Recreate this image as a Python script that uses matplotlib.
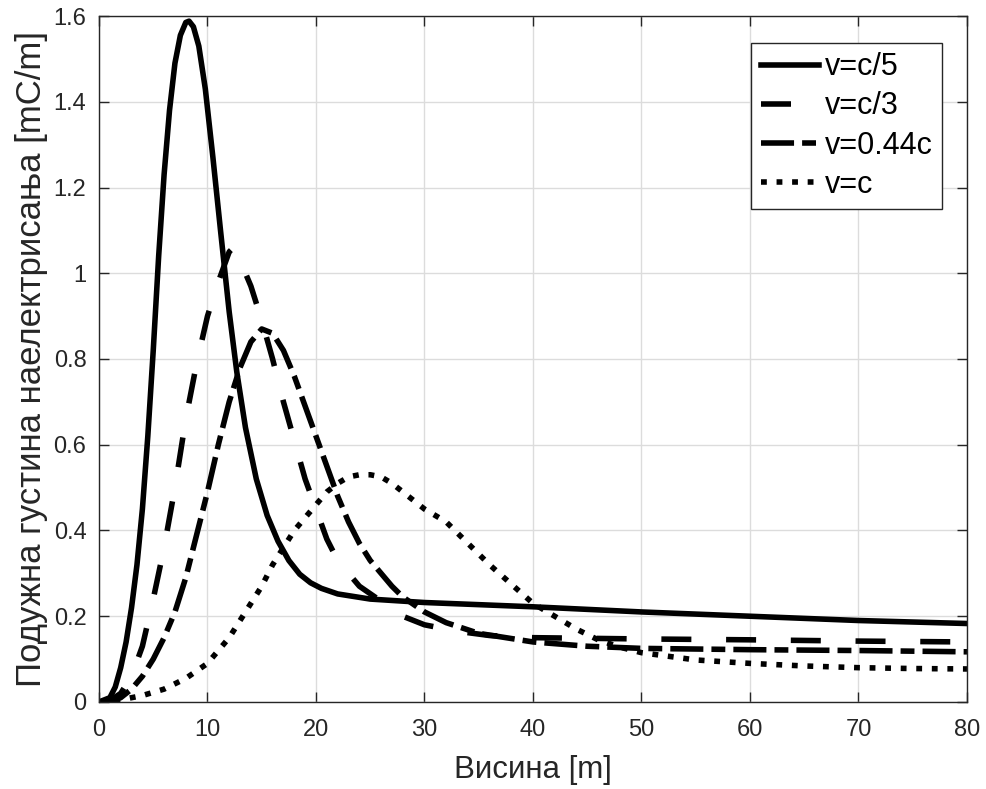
import matplotlib.pyplot as plt
import numpy as np

plt.rcParams['font.family'] = ['Liberation Sans', 'DejaVu Sans']
plt.rcParams['lines.scale_dashes'] = False

# v = c/5 (puna linija)
x_c5 = [0, 1, 1.5, 2, 2.5, 3, 3.5, 4, 4.5, 5, 5.5, 6, 6.5, 7, 7.5, 8, 8.3, 8.7,
        9.2, 9.8, 10.5, 11.2, 12, 12.7, 13.5, 14.5, 15.5, 16.5, 17.5, 18.5,
        19.5, 20.5, 22, 25, 30, 40, 50, 60, 70, 80]
y_c5 = [0, 0.01, 0.035, 0.08, 0.14, 0.22, 0.32, 0.45, 0.62, 0.82, 1.04, 1.23,
        1.38, 1.49, 1.555, 1.585, 1.588, 1.575, 1.53, 1.43, 1.27, 1.10, 0.91,
        0.77, 0.64, 0.52, 0.435, 0.375, 0.33, 0.298, 0.278, 0.265, 0.252, 0.24,
        0.232, 0.222, 0.21, 0.20, 0.19, 0.183]

# v = c/3
x_c3 = [0, 1, 2, 3, 4, 5, 6, 7, 8, 9, 10, 11, 12, 12.4, 13, 14, 15, 16, 17, 18,
        19, 20, 21, 22, 23, 24, 26, 28, 30, 33, 36, 40, 50, 60, 70, 80]
y_c3 = [0, 0.003, 0.02, 0.06, 0.13, 0.24, 0.36, 0.50, 0.66, 0.79, 0.90, 0.98,
        1.05, 1.06, 1.03, 0.97, 0.89, 0.80, 0.70, 0.61, 0.52, 0.45, 0.38, 0.33,
        0.30, 0.27, 0.235, 0.20, 0.18, 0.165, 0.155, 0.15, 0.147, 0.145, 0.142,
        0.14]

# v = 0.44c
x_c044 = [0, 1, 2, 3, 4, 5, 6, 7, 8, 9, 10, 11, 12, 13, 14, 15, 16, 17, 18, 19,
          20, 21, 22, 23, 24, 25, 26, 27, 28, 30, 32, 35, 40, 45, 50, 60, 70, 80]
y_c044 = [0, 0.002, 0.01, 0.03, 0.06, 0.10, 0.15, 0.21, 0.29, 0.39, 0.49, 0.60,
          0.70, 0.78, 0.84, 0.87, 0.86, 0.82, 0.76, 0.69, 0.62, 0.55, 0.48, 0.42,
          0.37, 0.33, 0.30, 0.27, 0.245, 0.21, 0.185, 0.16, 0.14, 0.13, 0.125,
          0.122, 0.12, 0.117]

# v = c (tackasta)
x_c = [0, 2, 4, 6, 8, 10, 12, 13, 14, 15, 16, 17, 18, 19, 20, 21, 22, 23, 24,
       25, 26, 27, 28, 29, 30, 32, 34, 36, 38, 40, 42, 44, 46, 48, 50, 55, 60,
       65, 70, 75, 80]
y_c = [0, 0.005, 0.015, 0.03, 0.055, 0.09, 0.15, 0.19, 0.23, 0.27, 0.32, 0.36,
       0.40, 0.43, 0.46, 0.49, 0.51, 0.525, 0.53, 0.53, 0.525, 0.51, 0.49, 0.47,
       0.45, 0.42, 0.37, 0.32, 0.275, 0.23, 0.20, 0.17, 0.145, 0.128, 0.115,
       0.098, 0.09, 0.084, 0.08, 0.078, 0.077]

labels = ['v=c/5', 'v=c/3', 'v=0.44c', 'v=c']

fig = plt.figure(figsize=(9.86, 7.89), dpi=100)
ax = fig.add_axes([0.1004, 0.1103, 0.8803, 0.8694])

lw = 4.0
ax.plot(x_c5, y_c5, color='k', lw=lw, label=labels[0])
l2, = ax.plot(x_c3, y_c3, color='k', lw=lw, label=labels[1])
l2.set_dashes((21.6, 25))
l3, = ax.plot(x_c044, y_c044, color='k', lw=lw, label=labels[2])
l3.set_dashes((23.8, 5.8, 10, 5.8))
l4, = ax.plot(x_c, y_c, color='k', lw=lw, label=labels[3])
l4.set_dashes((4.2, 7))

ax.set_xlim(0, 80)
ax.set_ylim(0, 1.6)
ax.set_xticks(np.arange(0, 81, 10))
ax.set_yticks([0, 0.2, 0.4, 0.6, 0.8, 1, 1.2, 1.4, 1.6])
ax.set_yticklabels(['0', '0.2', '0.4', '0.6', '0.8', '1', '1.2', '1.4', '1.6'])
ax.grid(True, color='#dcdcdc', lw=1)
ax.set_axisbelow(True)
ax.tick_params(direction='in', length=7, width=1, top=True, right=True,
               labelsize=17, colors='#262626')
ax.tick_params(axis='x', pad=12)
ax.tick_params(axis='y', pad=9)
for s in ax.spines.values():
    s.set_color('#262626')
    s.set_linewidth(1)

ax.set_xlabel('Висина [m]', fontsize=22.5, color='#262626', labelpad=10)
ax.set_ylabel('Подужна густина наелектрисања [mC/m]', fontsize=25,
              color='#262626', labelpad=4)

leg = ax.legend(loc='upper right', bbox_to_anchor=(0.971, 0.9606), fontsize=22,
                handlelength=1.9, handletextpad=0.2, labelspacing=0.3,
                borderpad=0.3, borderaxespad=0, fancybox=False, framealpha=1)
leg.get_frame().set_edgecolor('#262626')
leg.get_frame().set_linewidth(1)

fig.savefig('out.png', dpi=100)
